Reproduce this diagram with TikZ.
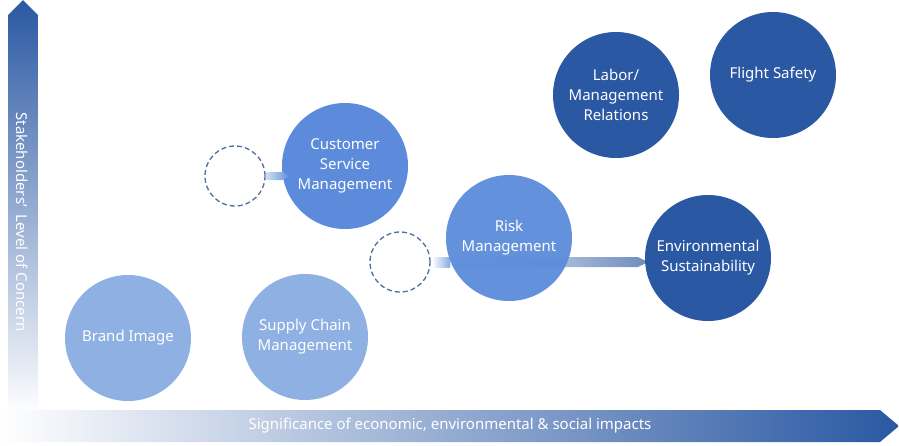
\documentclass[tikz,border=0pt]{standalone}
\usepackage{fontspec}
\setmainfont{Noto Sans}
\usetikzlibrary{shapes.geometric}
\definecolor{cLight}{HTML}{8FB0E2}
\definecolor{cMid}{HTML}{5B8BDA}
\definecolor{cDark}{HTML}{2A58A3}
\definecolor{cDash}{HTML}{4F6FA0}
\tikzset{
  bub/.style={circle,minimum size=126pt,inner sep=0pt,align=center,text=white,font=\fontsize{15}{20}\selectfont},
  ghost/.style={circle,minimum size=60pt,draw=cDash,dashed,line width=1.3pt,dash pattern=on 5pt off 3pt},
}
\begin{document}
\begin{tikzpicture}[x=1pt,y=-1pt]
\useasboundingbox (0,0) rectangle (899,445);
% axes
\shade[bottom color=white,top color=cDark,shading angle=0] (8,415) -- (8,15) -- (23,0) -- (38,15) -- (38,415) -- cycle;
\shade[left color=white,right color=cDark] (0,410) -- (880,410) -- (899,426) -- (880,442) -- (0,442) -- cycle;
\node (ylab) at (22,222) [rotate=-90,text=white,font=\fontsize{15}{18}\selectfont] {Stakeholders'\ \ Level of Concern};
\node (xlab) at (450,426) [text=white,font=\fontsize{15}{18}\selectfont] {Significance of economic, environmental \& social impacts};
% bubbles
\node[bub,fill=cLight] (brand) at (128,338) {Brand Image};
\node[bub,fill=cLight] (supply) at (305,337) {Supply Chain\\Management};
\node[ghost] (g1) at (235,176) {};
\node[bub,fill=cMid] (cust) at (345,166) {Customer\\Service\\Management};
\node[ghost] (g2) at (400,262) {};
\shade[left color=white,right color=cMid!80!black,opacity=0.8] (432,257) -- (638,257) -- (648,262) -- (638,267) -- (432,267) -- cycle;
\node[bub,fill=cMid,fill opacity=0.95,text opacity=1] (risk) at (509,238) {Risk\\Management};
\shade[left color=white,right color=cMid,opacity=0.7] (432,257) -- (450,257) -- (450,267) -- (432,267) -- cycle;
\shade[left color=cLight!40,right color=cMid] (266,172) -- (282,172) -- (290,176) -- (282,180) -- (266,180) -- cycle;
\node[bub,fill=cDark] (env) at (708,258) {Environmental\\Sustainability};
\node[bub,fill=cDark] (labor) at (616,95) {Labor/\\Management\\Relations};
\node[bub,fill=cDark] (flight) at (773,75) {Flight Safety};
\end{tikzpicture}
\end{document}
